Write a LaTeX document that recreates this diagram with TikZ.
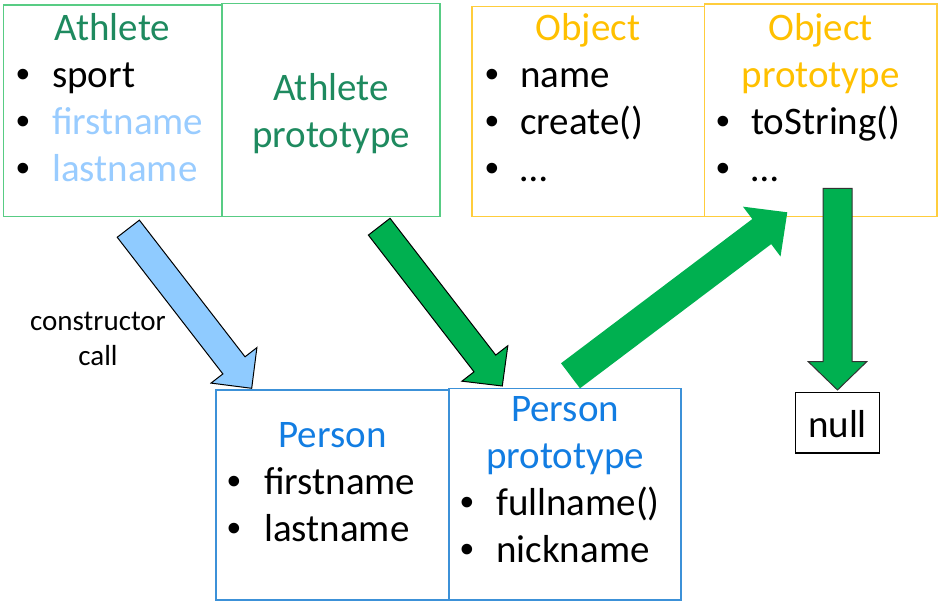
\documentclass[tikz,border=0pt]{standalone}
\usepackage{fontspec}
\setmainfont{Carlito}
\newfontfamily\bulletfont{Liberation Sans}
\usetikzlibrary{calc}
\definecolor{athT}{RGB}{30,138,95}
\definecolor{athB}{RGB}{88,204,132}
\definecolor{ltblue}{RGB}{153,204,255}
\definecolor{arrBlue}{RGB}{143,203,255}
\definecolor{objT}{RGB}{255,192,0}
\definecolor{objB}{RGB}{255,205,60}
\definecolor{perT}{RGB}{18,125,226}
\definecolor{perB}{RGB}{60,145,216}
\definecolor{pptGreen}{RGB}{0,176,80}
\newcommand\blockarrow[6]{%
  \path ($(#2)!#4!(#1)$) coordinate (#1-hb);
  \draw[#6] ($(#1)!#3!90:(#2)$) -- ($(#1-hb)!#3!90:(#2)$) -- ($(#1-hb)!#5!90:(#2)$)
    -- (#2) -- ($(#1-hb)!#5!-90:(#2)$) -- ($(#1-hb)!#3!-90:(#2)$) -- ($(#1)!#3!-90:(#2)$) -- cycle;}
\newcommand\bitem[6]{%
  \node[txt,anchor=base] (#1b) at (#2,#4) {\bulletfont •};
  \node[txt,anchor=base west,text=#5] (#1) at (#3,#4) {#6};}
\begin{document}
\begin{tikzpicture}[x=1pt,y=-1pt,
  box/.style={draw=#1,line width=1.5pt,inner sep=0pt},
  txt/.style={font=\fontsize{39}{47}\selectfont,inner sep=0pt},
  small/.style={font=\fontsize{29}{35}\selectfont,inner sep=0pt,align=center}]
\useasboundingbox (0,0) rectangle (940,604);
% boxes
\node[box=athB,minimum width=218.5pt,minimum height=211.5pt] (ath) at (112.5,111) {};
\node[box=athB,minimum width=218pt,minimum height=213pt] (athp) at (331,110) {};
\node[box=objB,minimum width=232.5pt,minimum height=210pt] (obj) at (588,111.7) {};
\node[box=objB,minimum width=232.5pt,minimum height=212.5pt] (objp) at (820.5,110.5) {};
\node[box=perB,minimum width=233pt,minimum height=210pt] (per) at (332.5,495) {};
\node[box=perB,minimum width=232pt,minimum height=211.7pt] (perp) at (565,494.2) {};
\node[draw=black,line width=1.5pt,minimum width=84pt,minimum height=60.5pt,inner sep=0pt] (nullbox) at (837.5,422.5) {};
% texts
\node[txt,anchor=base,text=athT] (athT) at (112.5,40.5) {Athlete};
\bitem{a1}{23}{52}{87.5}{black}{sport}
\bitem{a2}{23}{52}{135}{ltblue}{firstname}
\bitem{a3}{23}{52}{182}{ltblue}{lastname}
\node[txt,anchor=base,text=athT] (athpT1) at (331,100.5) {Athlete};
\node[txt,anchor=base,text=athT] (athpT2) at (331,147.5) {prototype};
\node[txt,anchor=base,text=objT] (objT) at (588,40.5) {Object};
\bitem{o1}{492}{520}{87.5}{black}{name}
\bitem{o2}{492}{520}{135}{black}{create()}
\bitem{o3}{492}{520}{182}{black}{…}
\node[txt,anchor=base,text=objT] (objpT1) at (820.5,40.5) {Object};
\node[txt,anchor=base,text=objT] (objpT2) at (820.5,87.5) {prototype};
\bitem{op1}{723}{751}{135}{black}{toString()}
\bitem{op2}{723}{751}{182}{black}{…}
\node[txt,anchor=base,text=perT] (perT) at (332.5,447.5) {Person};
\bitem{p1}{234}{264}{494.5}{black}{firstname}
\bitem{p2}{234}{264}{541.5}{black}{lastname}
\node[txt,anchor=base,text=perT] (perpT1) at (565,421.5) {Person};
\node[txt,anchor=base,text=perT] (perpT2) at (565,468.5) {prototype};
\bitem{pp1}{467}{496}{515.5}{black}{fullname()}
\bitem{pp2}{467}{496}{562.5}{black}{nickname}
\node[txt,anchor=base] (nullT) at (837.5,437.5) {null};
\node[small,anchor=base] (ctor) at (98,330.5) {constructor};
\node[small,anchor=base] (call) at (98,365.5) {call};
% arrows
\coordinate (bluetail) at (128.3,228.7);
\coordinate (bluetip) at (251.7,388.3);
\coordinate (g1tail) at (379.2,226.7);
\coordinate (g1tip) at (502.3,386);
\coordinate (g2tail) at (570.5,375.8);
\coordinate (g2tip) at (787.3,212.3);
\coordinate (g3tail) at (837.5,188.3);
\coordinate (g3tip) at (837.5,390);
\blockarrow{bluetail}{bluetip}{14pt}{29pt}{29pt}{fill=arrBlue,draw=black,line width=1pt,line join=miter}
\blockarrow{g1tail}{g1tip}{13.7pt}{28.5pt}{29pt}{fill=pptGreen,draw=black,line width=1pt,line join=miter}
\blockarrow{g2tail}{g2tip}{15.7pt}{32pt}{31.2pt}{fill=pptGreen,draw=none}
\blockarrow{g3tail}{g3tip}{14.5pt}{28.3pt}{29.2pt}{fill=pptGreen,draw=black!80,line width=1pt,line join=miter}
\end{tikzpicture}
\end{document}
